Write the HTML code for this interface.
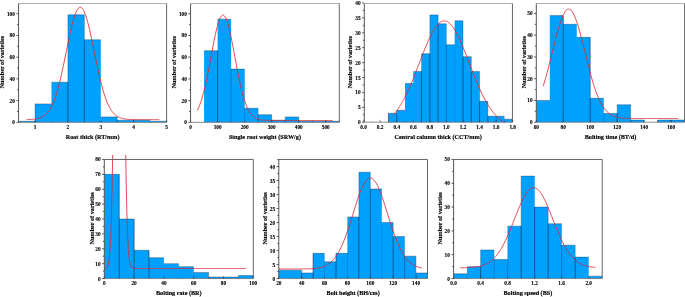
<!DOCTYPE html>
<html><head><meta charset="utf-8"><style>
html,body{margin:0;padding:0;background:#fff;}
svg{display:block;will-change:transform;}
</style></head><body>
<svg width="685" height="297" viewBox="0 0 685 297">
<rect width="685" height="297" fill="#fff"/>
<g fill="#00a0ff"><path d="M18.57 122.35V121.26H35.02V103.88H51.47V82.15H67.91V14.8H84.36V39.79H100.81V116.92H117.26V120.18H133.7V120.18H150.15V121.26H166.6V122.35Z"/></g>
<g stroke="#102a48" stroke-width="0.6" fill="none"><path d="M18.57 121.26H35.02" stroke-opacity="0.6"/><path d="M35.02 103.88H51.47" stroke-opacity="0.6"/><path d="M51.47 82.15H67.91" stroke-opacity="0.6"/><path d="M67.91 14.8H84.36" stroke-opacity="0.6"/><path d="M84.36 39.79H100.81" stroke-opacity="0.6"/><path d="M100.81 116.92H117.26" stroke-opacity="0.6"/><path d="M117.26 120.18H133.7" stroke-opacity="0.6"/><path d="M133.7 120.18H150.15" stroke-opacity="0.6"/><path d="M150.15 121.26H166.6" stroke-opacity="0.6"/><path d="M35.02 121.26V122.35" stroke-opacity="1"/><path d="M35.02 103.88V121.26" stroke-opacity="0.5"/><path d="M67.91 82.15V122.35" stroke-opacity="1"/><path d="M67.91 14.8V82.15" stroke-opacity="0.5"/><path d="M84.36 39.79V122.35" stroke-opacity="1"/><path d="M84.36 14.8V39.79" stroke-opacity="0.5"/><path d="M117.26 120.18V122.35" stroke-opacity="1"/><path d="M117.26 116.92V120.18" stroke-opacity="0.5"/><path d="M133.7 120.18V122.35" stroke-opacity="1"/></g>
<polyline fill="none" stroke="#d82c34" stroke-width="0.85" points="26.46,119.57 27.13,119.56 27.79,119.54 28.46,119.52 29.12,119.5 29.79,119.48 30.45,119.45 31.12,119.41 31.78,119.37 32.45,119.33 33.11,119.27 33.77,119.21 34.44,119.14 35.1,119.05 35.77,118.95 36.43,118.84 37.1,118.72 37.76,118.57 38.43,118.41 39.09,118.22 39.75,118.01 40.42,117.76 41.08,117.49 41.75,117.19 42.41,116.85 43.08,116.46 43.74,116.03 44.41,115.56 45.07,115.03 45.74,114.45 46.4,113.8 47.06,113.09 47.73,112.31 48.39,111.45 49.06,110.52 49.72,109.5 50.39,108.39 51.05,107.19 51.72,105.9 52.38,104.5 53.04,103 53.71,101.4 54.37,99.68 55.04,97.85 55.7,95.91 56.37,93.86 57.03,91.69 57.7,89.4 58.36,87.01 59.02,84.5 59.69,81.89 60.35,79.18 61.02,76.37 61.68,73.47 62.35,70.49 63.01,67.43 63.68,64.31 64.34,61.14 65.01,57.93 65.67,54.69 66.33,51.44 67,48.18 67.66,44.94 68.33,41.73 68.99,38.57 69.66,35.48 70.32,32.46 70.99,29.54 71.65,26.74 72.31,24.06 72.98,21.54 73.64,19.17 74.31,16.99 74.97,14.99 75.64,13.2 76.3,11.63 76.97,10.28 77.63,9.17 78.3,8.3 78.96,7.68 79.62,7.31 80.29,7.19 80.95,7.34 81.62,7.74 82.28,8.39 82.95,9.29 83.61,10.43 84.28,11.8 84.94,13.4 85.6,15.22 86.27,17.24 86.93,19.45 87.6,21.83 88.26,24.37 88.93,27.06 89.59,29.88 90.26,32.81 90.92,35.84 91.58,38.95 92.25,42.11 92.91,45.33 93.58,48.57 94.24,51.82 94.91,55.08 95.57,58.31 96.24,61.52 96.9,64.69 97.57,67.8 98.23,70.84 98.89,73.82 99.56,76.7 100.22,79.5 100.89,82.2 101.55,84.8 102.22,87.3 102.88,89.68 103.55,91.95 104.21,94.11 104.87,96.15 105.54,98.08 106.2,99.89 106.87,101.59 107.53,103.19 108.2,104.67 108.86,106.06 109.53,107.34 110.19,108.53 110.86,109.63 111.52,110.63 112.18,111.56 112.85,112.41 113.51,113.18 114.18,113.88 114.84,114.52 115.51,115.1 116.17,115.62 116.84,116.09 117.5,116.51 118.16,116.89 118.83,117.23 119.49,117.53 120.16,117.79 120.82,118.03 121.49,118.24 122.15,118.43 122.82,118.59 123.48,118.73 124.14,118.86 124.81,118.97 125.47,119.06 126.14,119.15 126.8,119.22 127.47,119.28 128.13,119.33 128.8,119.38 129.46,119.42 130.13,119.45 130.79,119.48 131.45,119.51 132.12,119.53 132.78,119.54 133.45,119.56 134.11,119.57 134.78,119.58 135.44,119.59 136.11,119.6 136.77,119.6 137.43,119.61 138.1,119.61 138.76,119.62 139.43,119.62 140.09,119.62 140.76,119.63 141.42,119.63 142.09,119.63 142.75,119.63 143.42,119.63 144.08,119.63 144.74,119.63 145.41,119.63 146.07,119.63 146.74,119.63 147.4,119.63 148.07,119.63 148.73,119.63 149.4,119.63 150.06,119.63 150.72,119.63 151.39,119.63 152.05,119.63 152.72,119.63 153.38,119.63 154.05,119.63 154.71,119.63 155.38,119.63 156.04,119.63 156.71,119.63 157.37,119.63 158.03,119.63 158.7,119.63 159.36,119.63"/>
<path d="M18.57 3.5H166.6" stroke="#b0b0b0" stroke-width="1" fill="none"/>
<path d="M166.6 3.5V122.35" stroke="#666" stroke-width="1" fill="none"/>
<path d="M18.57 122.35H166.6" stroke="#707070" stroke-width="0.8" fill="none"/>
<path d="M18.57 3.5V122.35" stroke="#555" stroke-width="1" fill="none"/>
<path d="M18.57 122.35h-2.2M18.57 100.62h-2.2M18.57 78.89h-2.2M18.57 57.17h-2.2M18.57 35.44h-2.2M18.57 13.71h-2.2M18.57 111.49h-1.5M18.57 89.76h-1.5M18.57 68.03h-1.5M18.57 46.3h-1.5M18.57 24.58h-1.5" stroke="#333" stroke-width="0.8" fill="none"/>
<path d="M35.02 122.35v-2.4M67.91 122.35v-2.4M100.81 122.35v-2.4M133.7 122.35v-2.4M166.6 122.35v-2.4" stroke="#333" stroke-width="0.7" stroke-opacity="0.8" fill="none"/>
<path d="M18.57 122.35v-1.2M51.47 122.35v-1.2M84.36 122.35v-1.2M117.26 122.35v-1.2M150.15 122.35v-1.2" stroke="#333" stroke-width="0.7" stroke-opacity="0.4" fill="none"/>
<g font-family="Liberation Serif" font-weight="bold" font-size="5.3" fill="#000" stroke="#000" stroke-width="0.12"><text x="14.87" y="124.35" text-anchor="end">0</text><text x="14.87" y="102.62" text-anchor="end">20</text><text x="14.87" y="80.89" text-anchor="end">40</text><text x="14.87" y="59.17" text-anchor="end">60</text><text x="14.87" y="37.44" text-anchor="end">80</text><text x="14.87" y="15.71" text-anchor="end">100</text><text x="35.02" y="129.25" text-anchor="middle">1</text><text x="67.91" y="129.25" text-anchor="middle">2</text><text x="100.81" y="129.25" text-anchor="middle">3</text><text x="133.7" y="129.25" text-anchor="middle">4</text><text x="166.6" y="129.25" text-anchor="middle">5</text></g>
<text x="92.58" y="138.85" text-anchor="middle" font-family="Liberation Serif" font-weight="bold" font-size="6.2" fill="#000" stroke="#000" stroke-width="0.15">Root thick (RT/mm)</text>
<text transform="translate(4.2,62.12) rotate(-90)" text-anchor="middle" font-family="Liberation Serif" font-weight="bold" font-size="6.2" fill="#000" stroke="#000" stroke-width="0.15">Number of varieties</text>
<g fill="#00a0ff"><path d="M204.09 122.35V50.65H217.61V19.14H231.13V69.12H244.65V108.23H258.17V114.75H271.7V120.18H285.22V116.92H298.74V121.26H312.26V121.26H325.78V121.26H339.3V122.35Z"/></g>
<g stroke="#102a48" stroke-width="0.6" fill="none"><path d="M204.09 50.65H217.61" stroke-opacity="0.6"/><path d="M217.61 19.14H231.13" stroke-opacity="0.6"/><path d="M231.13 69.12H244.65" stroke-opacity="0.6"/><path d="M244.65 108.23H258.17" stroke-opacity="0.6"/><path d="M258.17 114.75H271.7" stroke-opacity="0.6"/><path d="M271.7 120.18H285.22" stroke-opacity="0.6"/><path d="M285.22 116.92H298.74" stroke-opacity="0.6"/><path d="M298.74 121.26H312.26" stroke-opacity="0.6"/><path d="M312.26 121.26H325.78" stroke-opacity="0.6"/><path d="M325.78 121.26H339.3" stroke-opacity="0.6"/><path d="M217.61 50.65V122.35" stroke-opacity="1"/><path d="M231.13 69.12V122.35" stroke-opacity="0.5"/><path d="M244.65 108.23V122.35" stroke-opacity="0.4"/><path d="M244.65 69.12V108.23" stroke-opacity="0.2"/><path d="M258.17 114.75V122.35" stroke-opacity="0.7"/><path d="M258.17 108.23V114.75" stroke-opacity="0.35"/><path d="M271.7 120.18V122.35" stroke-opacity="1"/><path d="M271.7 114.75V120.18" stroke-opacity="0.5"/><path d="M285.22 120.18V122.35" stroke-opacity="1"/><path d="M285.22 116.92V120.18" stroke-opacity="0.5"/><path d="M298.74 121.26V122.35" stroke-opacity="1"/><path d="M298.74 116.92V121.26" stroke-opacity="0.5"/><path d="M312.26 121.26V122.35" stroke-opacity="1"/><path d="M325.78 121.26V122.35" stroke-opacity="1"/></g>
<polyline fill="none" stroke="#d82c34" stroke-width="0.85" points="197.33,110.22 198.01,108.89 198.68,107.44 199.36,105.85 200.03,104.12 200.71,102.25 201.39,100.22 202.06,98.05 202.74,95.73 203.41,93.25 204.09,90.62 204.77,87.85 205.44,84.93 206.12,81.88 206.8,78.7 207.47,75.41 208.15,72.02 208.82,68.54 209.5,64.98 210.18,61.38 210.85,57.75 211.53,54.11 212.2,50.49 212.88,46.91 213.56,43.4 214.23,39.98 214.91,36.68 215.58,33.53 216.26,30.55 216.94,27.77 217.61,25.22 218.29,22.91 218.96,20.87 219.64,19.12 220.32,17.67 220.99,16.53 221.67,15.73 222.34,15.26 223.02,15.13 223.7,15.34 224.37,15.89 225.05,16.77 225.72,17.99 226.4,19.51 227.08,21.33 227.75,23.44 228.43,25.81 229.1,28.42 229.78,31.25 230.46,34.27 231.13,37.46 231.81,40.79 232.48,44.23 233.16,47.77 233.84,51.36 234.51,54.99 235.19,58.63 235.87,62.25 236.54,65.84 237.22,69.38 237.89,72.84 238.57,76.21 239.25,79.48 239.92,82.63 240.6,85.65 241.27,88.53 241.95,91.27 242.63,93.86 243.3,96.3 243.98,98.59 244.65,100.72 245.33,102.71 246.01,104.55 246.68,106.24 247.36,107.8 248.03,109.22 248.71,110.52 249.39,111.69 250.06,112.75 250.74,113.71 251.41,114.57 252.09,115.33 252.77,116.02 253.44,116.62 254.12,117.15 254.79,117.62 255.47,118.04 256.15,118.4 256.82,118.71 257.5,118.98 258.17,119.22 258.85,119.42 259.53,119.59 260.2,119.74 260.88,119.87 261.55,119.97 262.23,120.06 262.91,120.14 263.58,120.2 264.26,120.26 264.94,120.3 265.61,120.34 266.29,120.37 266.96,120.39 267.64,120.42 268.32,120.43 268.99,120.45 269.67,120.46 270.34,120.47 271.02,120.47 271.7,120.48 272.37,120.49 273.05,120.49 273.72,120.49 274.4,120.49 275.08,120.5 275.75,120.5 276.43,120.5 277.1,120.5 277.78,120.5 278.46,120.5 279.13,120.5 279.81,120.5 280.48,120.5 281.16,120.5 281.84,120.5 282.51,120.5 283.19,120.5 283.86,120.5 284.54,120.5 285.22,120.5 285.89,120.5 286.57,120.5 287.24,120.5 287.92,120.5 288.6,120.5 289.27,120.5 289.95,120.5 290.62,120.5 291.3,120.5 291.98,120.5 292.65,120.5 293.33,120.5 294,120.5 294.68,120.5 295.36,120.5 296.03,120.5 296.71,120.5 297.39,120.5 298.06,120.5 298.74,120.5 299.41,120.5 300.09,120.5 300.77,120.5 301.44,120.5 302.12,120.5 302.79,120.5 303.47,120.5 304.15,120.5 304.82,120.5 305.5,120.5 306.17,120.5 306.85,120.5 307.53,120.5 308.2,120.5 308.88,120.5 309.55,120.5 310.23,120.5 310.91,120.5 311.58,120.5 312.26,120.5 312.93,120.5 313.61,120.5 314.29,120.5 314.96,120.5 315.64,120.5 316.31,120.5 316.99,120.5 317.67,120.5 318.34,120.5 319.02,120.5 319.69,120.5 320.37,120.5 321.05,120.5 321.72,120.5 322.4,120.5 323.07,120.5 323.75,120.5 324.43,120.5 325.1,120.5 325.78,120.5 326.46,120.5 327.13,120.5 327.81,120.5 328.48,120.5 329.16,120.5 329.84,120.5 330.51,120.5 331.19,120.5 331.86,120.5 332.54,120.5"/>
<path d="M190.57 3.5H339.3" stroke="#b0b0b0" stroke-width="1" fill="none"/>
<path d="M339.3 3.5V122.35" stroke="#666" stroke-width="1" fill="none"/>
<path d="M190.57 122.35H339.3" stroke="#707070" stroke-width="0.8" fill="none"/>
<path d="M190.57 3.5V122.35" stroke="#555" stroke-width="1" fill="none"/>
<path d="M190.57 122.35h-2.2M190.57 100.62h-2.2M190.57 78.89h-2.2M190.57 57.17h-2.2M190.57 35.44h-2.2M190.57 13.71h-2.2M190.57 111.49h-1.5M190.57 89.76h-1.5M190.57 68.03h-1.5M190.57 46.3h-1.5M190.57 24.58h-1.5" stroke="#333" stroke-width="0.8" fill="none"/>
<path d="M190.57 122.35v-2.4M217.61 122.35v-2.4M244.65 122.35v-2.4M271.7 122.35v-2.4M298.74 122.35v-2.4M325.78 122.35v-2.4" stroke="#333" stroke-width="0.7" stroke-opacity="0.8" fill="none"/>
<path d="M204.09 122.35v-1.2M231.13 122.35v-1.2M258.17 122.35v-1.2M285.22 122.35v-1.2M312.26 122.35v-1.2M339.3 122.35v-1.2" stroke="#333" stroke-width="0.7" stroke-opacity="0.4" fill="none"/>
<g font-family="Liberation Serif" font-weight="bold" font-size="5.3" fill="#000" stroke="#000" stroke-width="0.12"><text x="186.87" y="124.35" text-anchor="end">0</text><text x="186.87" y="102.62" text-anchor="end">20</text><text x="186.87" y="80.89" text-anchor="end">40</text><text x="186.87" y="59.17" text-anchor="end">60</text><text x="186.87" y="37.44" text-anchor="end">80</text><text x="186.87" y="15.71" text-anchor="end">100</text><text x="190.57" y="129.25" text-anchor="middle">0</text><text x="217.61" y="129.25" text-anchor="middle">100</text><text x="244.65" y="129.25" text-anchor="middle">200</text><text x="271.7" y="129.25" text-anchor="middle">300</text><text x="298.74" y="129.25" text-anchor="middle">400</text><text x="325.78" y="129.25" text-anchor="middle">500</text></g>
<text x="264.94" y="138.85" text-anchor="middle" font-family="Liberation Serif" font-weight="bold" font-size="6.2" fill="#000" stroke="#000" stroke-width="0.15">Single root weight (SRW/g)</text>
<text transform="translate(176.1,62.12) rotate(-90)" text-anchor="middle" font-family="Liberation Serif" font-weight="bold" font-size="6.2" fill="#000" stroke="#000" stroke-width="0.15">Number of varieties</text>
<g fill="#00a0ff"><path d="M388.45 122.2V113.26H396.73V110.28H405.02V83.46H413.3V71.54H421.58V53.66H429.87V14.91H438.15V23.85H446.43V44.72H454.72V20.87H463V56.64H471.28V71.54H479.57V101.34H487.85V116.24H496.13V116.24H504.42V119.22H512.7V122.2Z"/></g>
<g stroke="#102a48" stroke-width="0.6" fill="none"><path d="M388.45 113.26H396.73" stroke-opacity="0.6"/><path d="M396.73 110.28H405.02" stroke-opacity="0.6"/><path d="M405.02 83.46H413.3" stroke-opacity="0.6"/><path d="M413.3 71.54H421.58" stroke-opacity="0.6"/><path d="M421.58 53.66H429.87" stroke-opacity="0.6"/><path d="M429.87 14.91H438.15" stroke-opacity="0.6"/><path d="M438.15 23.85H446.43" stroke-opacity="0.6"/><path d="M446.43 44.72H454.72" stroke-opacity="0.6"/><path d="M454.72 20.87H463" stroke-opacity="0.6"/><path d="M463 56.64H471.28" stroke-opacity="0.6"/><path d="M471.28 71.54H479.57" stroke-opacity="0.6"/><path d="M479.57 101.34H487.85" stroke-opacity="0.6"/><path d="M487.85 116.24H496.13" stroke-opacity="0.6"/><path d="M496.13 116.24H504.42" stroke-opacity="0.6"/><path d="M504.42 119.22H512.7" stroke-opacity="0.6"/><path d="M388.45 113.26V122.2" stroke-opacity="1"/><path d="M396.73 113.26V122.2" stroke-opacity="1"/><path d="M396.73 110.28V113.26" stroke-opacity="0.5"/><path d="M421.58 71.54V122.2" stroke-opacity="1"/><path d="M421.58 53.66V71.54" stroke-opacity="0.5"/><path d="M429.87 53.66V122.2" stroke-opacity="1"/><path d="M429.87 14.91V53.66" stroke-opacity="0.5"/><path d="M438.15 23.85V122.2" stroke-opacity="1"/><path d="M438.15 14.91V23.85" stroke-opacity="0.5"/><path d="M446.43 44.72V122.2" stroke-opacity="0.6"/><path d="M446.43 23.85V44.72" stroke-opacity="0.3"/><path d="M454.72 44.72V122.2" stroke-opacity="0.2"/><path d="M454.72 20.87V44.72" stroke-opacity="0.1"/><path d="M463 56.64V122.2" stroke-opacity="1"/><path d="M463 20.87V56.64" stroke-opacity="0.5"/><path d="M471.28 71.54V122.2" stroke-opacity="1"/><path d="M471.28 56.64V71.54" stroke-opacity="0.5"/><path d="M479.57 101.34V122.2" stroke-opacity="1"/><path d="M479.57 71.54V101.34" stroke-opacity="0.5"/><path d="M487.85 116.24V122.2" stroke-opacity="1"/><path d="M487.85 101.34V116.24" stroke-opacity="0.5"/><path d="M496.13 116.24V122.2" stroke-opacity="0.5"/><path d="M504.42 119.22V122.2" stroke-opacity="0.2"/><path d="M504.42 116.24V119.22" stroke-opacity="0.1"/></g>
<polyline fill="none" stroke="#d82c34" stroke-width="0.85" points="392.43,115.71 392.99,115.12 393.55,114.51 394.11,113.87 394.67,113.22 395.24,112.54 395.8,111.84 396.36,111.11 396.92,110.37 397.48,109.6 398.05,108.8 398.61,107.98 399.17,107.14 399.73,106.28 400.29,105.39 400.86,104.47 401.42,103.54 401.98,102.57 402.54,101.59 403.1,100.58 403.67,99.54 404.23,98.48 404.79,97.4 405.35,96.29 405.91,95.17 406.48,94.01 407.04,92.84 407.6,91.65 408.16,90.43 408.72,89.19 409.29,87.93 409.85,86.66 410.41,85.36 410.97,84.05 411.53,82.71 412.1,81.37 412.66,80 413.22,78.62 413.78,77.23 414.34,75.83 414.91,74.41 415.47,72.98 416.03,71.55 416.59,70.1 417.16,68.65 417.72,67.2 418.28,65.74 418.84,64.28 419.4,62.81 419.97,61.35 420.53,59.89 421.09,58.43 421.65,56.97 422.21,55.53 422.78,54.09 423.34,52.66 423.9,51.24 424.46,49.84 425.02,48.45 425.59,47.07 426.15,45.72 426.71,44.38 427.27,43.07 427.83,41.78 428.4,40.51 428.96,39.27 429.52,38.06 430.08,36.87 430.64,35.72 431.21,34.6 431.77,33.52 432.33,32.47 432.89,31.46 433.45,30.49 434.02,29.56 434.58,28.67 435.14,27.82 435.7,27.02 436.26,26.26 436.83,25.54 437.39,24.88 437.95,24.26 438.51,23.7 439.07,23.18 439.64,22.71 440.2,22.3 440.76,21.93 441.32,21.62 441.88,21.37 442.45,21.16 443.01,21.01 443.57,20.92 444.13,20.88 444.69,20.89 445.26,20.96 445.82,21.08 446.38,21.25 446.94,21.48 447.5,21.76 448.07,22.1 448.63,22.49 449.19,22.93 449.75,23.42 450.31,23.96 450.88,24.55 451.44,25.19 452,25.88 452.56,26.61 453.12,27.39 453.69,28.22 454.25,29.08 454.81,30 455.37,30.95 455.93,31.94 456.5,32.97 457.06,34.03 457.62,35.13 458.18,36.27 458.74,37.43 459.31,38.63 459.87,39.85 460.43,41.11 460.99,42.39 461.55,43.69 462.12,45.01 462.68,46.36 463.24,47.72 463.8,49.11 464.37,50.5 464.93,51.91 465.49,53.34 466.05,54.77 466.61,56.21 467.18,57.67 467.74,59.12 468.3,60.58 468.86,62.04 469.42,63.51 469.99,64.97 470.55,66.43 471.11,67.89 471.67,69.34 472.23,70.79 472.8,72.23 473.36,73.66 473.92,75.09 474.48,76.5 475.04,77.9 475.61,79.28 476.17,80.65 476.73,82.01 477.29,83.35 477.85,84.67 478.42,85.98 478.98,87.27 479.54,88.53 480.1,89.78 480.66,91.01 481.23,92.22 481.79,93.4 482.35,94.56 482.91,95.7 483.47,96.82 484.04,97.92 484.6,98.99 485.16,100.04 485.72,101.06 486.28,102.06 486.85,103.03 487.41,103.98 487.97,104.91 488.53,105.81 489.09,106.69 489.66,107.55 490.22,108.38 490.78,109.18 491.34,109.97 491.9,110.73 492.47,111.46 493.03,112.17 493.59,112.87 494.15,113.53 494.71,114.18 495.28,114.8 495.84,115.41 496.4,115.99 496.96,116.55 497.52,117.09 498.09,117.61 498.65,118.11 499.21,118.59 499.77,119.06 500.33,119.5 500.9,119.93 501.46,120.34 502.02,120.74 502.58,121.12 503.14,121.48 503.71,121.82 504.27,122.16 504.83,122.47"/>
<path d="M364.3 3.5H512.45" stroke="#b0b0b0" stroke-width="1" fill="none"/>
<path d="M512.45 3.5V122.2" stroke="#666" stroke-width="1" fill="none"/>
<path d="M364.3 122.2H512.45" stroke="#707070" stroke-width="0.8" fill="none"/>
<path d="M364.3 3.5V122.2" stroke="#555" stroke-width="1" fill="none"/>
<path d="M364.3 122.2h-2.2M364.3 107.3h-2.2M364.3 92.4h-2.2M364.3 77.5h-2.2M364.3 62.6h-2.2M364.3 47.7h-2.2M364.3 32.8h-2.2M364.3 17.89h-2.2M364.3 2.99h-2.2M364.3 114.75h-1.5M364.3 99.85h-1.5M364.3 84.95h-1.5M364.3 70.05h-1.5M364.3 55.15h-1.5M364.3 40.25h-1.5M364.3 25.34h-1.5M364.3 10.44h-1.5" stroke="#333" stroke-width="0.8" fill="none"/>
<path d="M363.6 122.2v-2.4M380.17 122.2v-2.4M396.73 122.2v-2.4M413.3 122.2v-2.4M429.87 122.2v-2.4M446.43 122.2v-2.4M463 122.2v-2.4M479.57 122.2v-2.4M496.13 122.2v-2.4M512.7 122.2v-2.4" stroke="#333" stroke-width="0.7" stroke-opacity="0.8" fill="none"/>
<path d="M371.88 122.2v-1.2M388.45 122.2v-1.2M405.02 122.2v-1.2M421.58 122.2v-1.2M438.15 122.2v-1.2M454.72 122.2v-1.2M471.28 122.2v-1.2M487.85 122.2v-1.2M504.42 122.2v-1.2" stroke="#333" stroke-width="0.7" stroke-opacity="0.4" fill="none"/>
<g font-family="Liberation Serif" font-weight="bold" font-size="5.3" fill="#000" stroke="#000" stroke-width="0.12"><text x="360.6" y="124.2" text-anchor="end">0</text><text x="360.6" y="109.3" text-anchor="end">5</text><text x="360.6" y="94.4" text-anchor="end">10</text><text x="360.6" y="79.5" text-anchor="end">15</text><text x="360.6" y="64.6" text-anchor="end">20</text><text x="360.6" y="49.7" text-anchor="end">25</text><text x="360.6" y="34.8" text-anchor="end">30</text><text x="360.6" y="19.89" text-anchor="end">35</text><text x="360.6" y="4.99" text-anchor="end">40</text><text x="363.6" y="129.1" text-anchor="middle">0.0</text><text x="380.17" y="129.1" text-anchor="middle">0.2</text><text x="396.73" y="129.1" text-anchor="middle">0.4</text><text x="413.3" y="129.1" text-anchor="middle">0.6</text><text x="429.87" y="129.1" text-anchor="middle">0.8</text><text x="446.43" y="129.1" text-anchor="middle">1.0</text><text x="463" y="129.1" text-anchor="middle">1.2</text><text x="479.57" y="129.1" text-anchor="middle">1.4</text><text x="496.13" y="129.1" text-anchor="middle">1.6</text><text x="512.7" y="129.1" text-anchor="middle">1.8</text></g>
<text x="438.15" y="138.7" text-anchor="middle" font-family="Liberation Serif" font-weight="bold" font-size="6.2" fill="#000" stroke="#000" stroke-width="0.15">Central column thick (CCT/mm)</text>
<text transform="translate(352.1,62.05) rotate(-90)" text-anchor="middle" font-family="Liberation Serif" font-weight="bold" font-size="6.2" fill="#000" stroke="#000" stroke-width="0.15">Number of varieties</text>
<g fill="#00a0ff"><path d="M536.3 122.2V100.45H549.78V15.62H563.26V24.32H576.75V37.37H590.23V98.27H603.71V113.5H617.19V104.8H630.67V120.02H644.15V122.2Z"/><path d="M657.64 122.2V120.02H671.12V120.02H684.6V122.2Z"/></g>
<g stroke="#102a48" stroke-width="0.6" fill="none"><path d="M536.3 100.45H549.78" stroke-opacity="0.6"/><path d="M549.78 15.62H563.26" stroke-opacity="0.6"/><path d="M563.26 24.32H576.75" stroke-opacity="0.6"/><path d="M576.75 37.37H590.23" stroke-opacity="0.6"/><path d="M590.23 98.27H603.71" stroke-opacity="0.6"/><path d="M603.71 113.5H617.19" stroke-opacity="0.6"/><path d="M617.19 104.8H630.67" stroke-opacity="0.6"/><path d="M630.67 120.02H644.15" stroke-opacity="0.6"/><path d="M657.64 120.02H671.12" stroke-opacity="0.6"/><path d="M671.12 120.02H684.6" stroke-opacity="0.6"/><path d="M563.26 24.32V122.2" stroke-opacity="1"/><path d="M563.26 15.62V24.32" stroke-opacity="1"/><path d="M590.23 98.27V122.2" stroke-opacity="1"/><path d="M590.23 37.37V98.27" stroke-opacity="0.8"/><path d="M603.71 113.5V122.2" stroke-opacity="0.3"/><path d="M603.71 98.27V113.5" stroke-opacity="0.15"/><path d="M617.19 113.5V122.2" stroke-opacity="1"/><path d="M617.19 104.8V113.5" stroke-opacity="0.5"/><path d="M630.67 120.02V122.2" stroke-opacity="1"/><path d="M630.67 104.8V120.02" stroke-opacity="0.5"/><path d="M644.15 120.02V122.2" stroke-opacity="0.6"/><path d="M657.64 120.02V122.2" stroke-opacity="0.8"/><path d="M671.12 120.02V122.2" stroke-opacity="1"/></g>
<polyline fill="none" stroke="#d82c34" stroke-width="0.85" points="543.18,86.2 543.85,84.07 544.53,81.86 545.2,79.57 545.88,77.22 546.56,74.8 547.23,72.31 547.91,69.77 548.58,67.18 549.26,64.54 549.94,61.86 550.61,59.15 551.29,56.42 551.97,53.68 552.64,50.93 553.32,48.18 553.99,45.45 554.67,42.74 555.35,40.07 556.02,37.44 556.7,34.87 557.37,32.36 558.05,29.93 558.73,27.59 559.4,25.35 560.08,23.22 560.75,21.2 561.43,19.31 562.11,17.56 562.78,15.96 563.46,14.5 564.14,13.21 564.81,12.09 565.49,11.14 566.16,10.36 566.84,9.77 567.52,9.36 568.19,9.13 568.87,9.1 569.54,9.25 570.22,9.59 570.9,10.12 571.57,10.82 572.25,11.71 572.92,12.77 573.6,14 574.28,15.4 574.95,16.94 575.63,18.64 576.31,20.48 576.98,22.45 577.66,24.54 578.33,26.74 579.01,29.05 579.69,31.45 580.36,33.92 581.04,36.47 581.71,39.08 582.39,41.74 583.07,44.44 583.74,47.16 584.42,49.9 585.09,52.65 585.77,55.4 586.45,58.14 587.12,60.85 587.8,63.54 588.48,66.2 589.15,68.81 589.83,71.37 590.5,73.88 591.18,76.32 591.86,78.7 592.53,81.01 593.21,83.25 593.88,85.41 594.56,87.49 595.24,89.49 595.91,91.41 596.59,93.24 597.26,94.99 597.94,96.66 598.62,98.24 599.29,99.75 599.97,101.16 600.65,102.5 601.32,103.77 602,104.95 602.67,106.06 603.35,107.1 604.03,108.07 604.7,108.98 605.38,109.82 606.05,110.6 606.73,111.32 607.41,111.99 608.08,112.6 608.76,113.17 609.43,113.69 610.11,114.17 610.79,114.61 611.46,115 612.14,115.37 612.82,115.7 613.49,116 614.17,116.27 614.84,116.51 615.52,116.74 616.2,116.94 616.87,117.12 617.55,117.28 618.22,117.42 618.9,117.55 619.58,117.66 620.25,117.77 620.93,117.86 621.6,117.94 622.28,118.01 622.96,118.07 623.63,118.13 624.31,118.18 624.99,118.22 625.66,118.26 626.34,118.29 627.01,118.32 627.69,118.35 628.37,118.37 629.04,118.39 629.72,118.4 630.39,118.42 631.07,118.43 631.75,118.44 632.42,118.45 633.1,118.46 633.77,118.46 634.45,118.47 635.13,118.48 635.8,118.48 636.48,118.48 637.16,118.49 637.83,118.49 638.51,118.49 639.18,118.49 639.86,118.49 640.54,118.5 641.21,118.5 641.89,118.5 642.56,118.5 643.24,118.5 643.92,118.5 644.59,118.5 645.27,118.5 645.94,118.5 646.62,118.5 647.3,118.5 647.97,118.5 648.65,118.5 649.33,118.5 650,118.5 650.68,118.5 651.35,118.5 652.03,118.5 652.71,118.5 653.38,118.5 654.06,118.5 654.73,118.5 655.41,118.5 656.09,118.5 656.76,118.5 657.44,118.5 658.11,118.5 658.79,118.5 659.47,118.5 660.14,118.5 660.82,118.5 661.5,118.5 662.17,118.5 662.85,118.5 663.52,118.5 664.2,118.5 664.88,118.5 665.55,118.5 666.23,118.5 666.9,118.5 667.58,118.5 668.26,118.5 668.93,118.5 669.61,118.5 670.29,118.5 670.96,118.5 671.64,118.5 672.31,118.5 672.99,118.5 673.67,118.5 674.34,118.5 675.02,118.5 675.69,118.5 676.37,118.5 677.05,118.5 677.72,118.5 678.4,118.5"/>
<path d="M536.3 3.5H684.6" stroke="#b0b0b0" stroke-width="1" fill="none"/>
<path d="M684.6 3.5V122.2" stroke="#666" stroke-width="1" fill="none"/>
<path d="M536.3 122.2H684.6" stroke="#707070" stroke-width="0.8" fill="none"/>
<path d="M536.3 3.5V122.2" stroke="#555" stroke-width="1" fill="none"/>
<path d="M536.3 122.2h-2.2M536.3 100.45h-2.2M536.3 78.7h-2.2M536.3 56.94h-2.2M536.3 35.19h-2.2M536.3 13.44h-2.2M536.3 111.32h-1.5M536.3 89.57h-1.5M536.3 67.82h-1.5M536.3 46.07h-1.5M536.3 24.32h-1.5" stroke="#333" stroke-width="0.8" fill="none"/>
<path d="M536.3 122.2v-2.4M563.26 122.2v-2.4M590.23 122.2v-2.4M617.19 122.2v-2.4M644.15 122.2v-2.4M671.12 122.2v-2.4" stroke="#333" stroke-width="0.7" stroke-opacity="0.8" fill="none"/>
<path d="M549.78 122.2v-1.2M576.75 122.2v-1.2M603.71 122.2v-1.2M630.67 122.2v-1.2M657.64 122.2v-1.2M684.6 122.2v-1.2" stroke="#333" stroke-width="0.7" stroke-opacity="0.4" fill="none"/>
<g font-family="Liberation Serif" font-weight="bold" font-size="5.3" fill="#000" stroke="#000" stroke-width="0.12"><text x="532.6" y="124.2" text-anchor="end">0</text><text x="532.6" y="102.45" text-anchor="end">10</text><text x="532.6" y="80.7" text-anchor="end">20</text><text x="532.6" y="58.94" text-anchor="end">30</text><text x="532.6" y="37.19" text-anchor="end">40</text><text x="532.6" y="15.44" text-anchor="end">50</text><text x="536.3" y="129.1" text-anchor="middle">60</text><text x="563.26" y="129.1" text-anchor="middle">80</text><text x="590.23" y="129.1" text-anchor="middle">100</text><text x="617.19" y="129.1" text-anchor="middle">120</text><text x="644.15" y="129.1" text-anchor="middle">140</text><text x="671.12" y="129.1" text-anchor="middle">160</text></g>
<text x="610.45" y="138.7" text-anchor="middle" font-family="Liberation Serif" font-weight="bold" font-size="6.2" fill="#000" stroke="#000" stroke-width="0.15">Bolting time (BT/d)</text>
<text transform="translate(525.5,62.05) rotate(-90)" text-anchor="middle" font-family="Liberation Serif" font-weight="bold" font-size="6.2" fill="#000" stroke="#000" stroke-width="0.15">Number of varieties</text>
<g fill="#00a0ff"><path d="M104.3 278.55V174.34H119.2V219H134.1V250.26H149V257.71H163.9V263.66H178.8V266.64H193.7V272.6H208.6V277.06H223.5V277.06H238.4V275.57H253.3V278.55Z"/></g>
<g stroke="#102a48" stroke-width="0.6" fill="none"><path d="M104.3 174.34H119.2" stroke-opacity="0.6"/><path d="M119.2 219H134.1" stroke-opacity="0.6"/><path d="M134.1 250.26H149" stroke-opacity="0.6"/><path d="M149 257.71H163.9" stroke-opacity="0.6"/><path d="M163.9 263.66H178.8" stroke-opacity="0.6"/><path d="M178.8 266.64H193.7" stroke-opacity="0.6"/><path d="M193.7 272.6H208.6" stroke-opacity="0.6"/><path d="M208.6 277.06H223.5" stroke-opacity="0.6"/><path d="M223.5 277.06H238.4" stroke-opacity="0.6"/><path d="M238.4 275.57H253.3" stroke-opacity="0.6"/><path d="M119.2 219V278.55" stroke-opacity="1"/><path d="M119.2 174.34V219" stroke-opacity="1"/><path d="M134.1 250.26V278.55" stroke-opacity="1"/><path d="M134.1 219V250.26" stroke-opacity="1"/><path d="M149 257.71V278.55" stroke-opacity="1"/><path d="M149 250.26V257.71" stroke-opacity="1"/><path d="M193.7 272.6V278.55" stroke-opacity="0.3"/><path d="M193.7 266.64V272.6" stroke-opacity="0.15"/><path d="M208.6 277.06V278.55" stroke-opacity="1"/><path d="M208.6 272.6V277.06" stroke-opacity="0.5"/><path d="M223.5 277.06V278.55" stroke-opacity="1"/><path d="M238.4 277.06V278.55" stroke-opacity="1"/><path d="M238.4 275.57V277.06" stroke-opacity="0.5"/></g>
<clipPath id="cp4"><rect x="0" y="155" width="685" height="297"/></clipPath>
<polyline clip-path="url(#cp4)" fill="none" stroke="#d82c34" stroke-width="0.85" points="104.3,268.45 105.01,268.38 105.72,268.22 106.42,267.87 107.13,267.16 107.84,265.77 108.55,263.17 109.25,258.52 109.96,250.62 110.67,237.82 111.38,218.07 112.09,189.09 112.79,148.73 113.5,95.45 114.21,29.01 114.92,-48.99 115.62,-134.67 116.33,-221.9 117.04,-302.89 117.75,-369.22 118.45,-413.28 119.16,-429.68 119.87,-416.37 120.58,-375.02 121.29,-310.71 121.99,-230.87 122.7,-143.9 123.41,-57.74 124.12,21.29 124.82,89.07 125.53,143.74 126.24,185.41 126.95,215.49 127.66,236.11 128.36,249.54 129.07,257.87 129.78,262.79 130.49,265.56 131.19,267.05 131.9,267.82 132.61,268.19 133.32,268.37 134.03,268.45 134.73,268.48 135.44,268.49 136.15,268.5 136.86,268.5 137.56,268.5 138.27,268.5 138.98,268.5 139.69,268.5 140.4,268.5 141.1,268.5 141.81,268.5 142.52,268.5 143.23,268.5 143.93,268.5 144.64,268.5 145.35,268.5 146.06,268.5 146.76,268.5 147.47,268.5 148.18,268.5 148.89,268.5 149.6,268.5 150.3,268.5 151.01,268.5 151.72,268.5 152.43,268.5 153.13,268.5 153.84,268.5 154.55,268.5 155.26,268.5 155.97,268.5 156.67,268.5 157.38,268.5 158.09,268.5 158.8,268.5 159.5,268.5 160.21,268.5 160.92,268.5 161.63,268.5 162.34,268.5 163.04,268.5 163.75,268.5 164.46,268.5 165.17,268.5 165.87,268.5 166.58,268.5 167.29,268.5 168,268.5 168.71,268.5 169.41,268.5 170.12,268.5 170.83,268.5 171.54,268.5 172.24,268.5 172.95,268.5 173.66,268.5 174.37,268.5 175.07,268.5 175.78,268.5 176.49,268.5 177.2,268.5 177.91,268.5 178.61,268.5 179.32,268.5 180.03,268.5 180.74,268.5 181.44,268.5 182.15,268.5 182.86,268.5 183.57,268.5 184.28,268.5 184.98,268.5 185.69,268.5 186.4,268.5 187.11,268.5 187.81,268.5 188.52,268.5 189.23,268.5 189.94,268.5 190.65,268.5 191.35,268.5 192.06,268.5 192.77,268.5 193.48,268.5 194.18,268.5 194.89,268.5 195.6,268.5 196.31,268.5 197.02,268.5 197.72,268.5 198.43,268.5 199.14,268.5 199.85,268.5 200.55,268.5 201.26,268.5 201.97,268.5 202.68,268.5 203.38,268.5 204.09,268.5 204.8,268.5 205.51,268.5 206.22,268.5 206.92,268.5 207.63,268.5 208.34,268.5 209.05,268.5 209.75,268.5 210.46,268.5 211.17,268.5 211.88,268.5 212.59,268.5 213.29,268.5 214,268.5 214.71,268.5 215.42,268.5 216.12,268.5 216.83,268.5 217.54,268.5 218.25,268.5 218.96,268.5 219.66,268.5 220.37,268.5 221.08,268.5 221.79,268.5 222.49,268.5 223.2,268.5 223.91,268.5 224.62,268.5 225.33,268.5 226.03,268.5 226.74,268.5 227.45,268.5 228.16,268.5 228.86,268.5 229.57,268.5 230.28,268.5 230.99,268.5 231.69,268.5 232.4,268.5 233.11,268.5 233.82,268.5 234.53,268.5 235.23,268.5 235.94,268.5 236.65,268.5 237.36,268.5 238.06,268.5 238.77,268.5 239.48,268.5 240.19,268.5 240.9,268.5 241.6,268.5 242.31,268.5 243.02,268.5 243.73,268.5 244.43,268.5 245.14,268.5 245.85,268.5"/>
<path d="M104.3 159.45H253.3" stroke="#606060" stroke-width="1" fill="none"/>
<path d="M253.3 159.45V278.55" stroke="#666" stroke-width="1" fill="none"/>
<path d="M104.3 278.55H253.3" stroke="#707070" stroke-width="0.8" fill="none"/>
<path d="M104.3 159.45V278.55" stroke="#555" stroke-width="1" fill="none"/>
<path d="M104.3 278.55h-2.2M104.3 263.66h-2.2M104.3 248.78h-2.2M104.3 233.89h-2.2M104.3 219h-2.2M104.3 204.11h-2.2M104.3 189.22h-2.2M104.3 174.34h-2.2M104.3 159.45h-2.2M104.3 271.11h-1.5M104.3 256.22h-1.5M104.3 241.33h-1.5M104.3 226.44h-1.5M104.3 211.56h-1.5M104.3 196.67h-1.5M104.3 181.78h-1.5M104.3 166.89h-1.5" stroke="#333" stroke-width="0.8" fill="none"/>
<path d="M104.3 278.55v-2.4M134.1 278.55v-2.4M163.9 278.55v-2.4M193.7 278.55v-2.4M223.5 278.55v-2.4M253.3 278.55v-2.4" stroke="#333" stroke-width="0.7" stroke-opacity="0.8" fill="none"/>
<path d="M119.2 278.55v-1.2M149 278.55v-1.2M178.8 278.55v-1.2M208.6 278.55v-1.2M238.4 278.55v-1.2" stroke="#333" stroke-width="0.7" stroke-opacity="0.4" fill="none"/>
<g font-family="Liberation Serif" font-weight="bold" font-size="5.3" fill="#000" stroke="#000" stroke-width="0.12"><text x="100.6" y="280.55" text-anchor="end">0</text><text x="100.6" y="265.66" text-anchor="end">10</text><text x="100.6" y="250.78" text-anchor="end">20</text><text x="100.6" y="235.89" text-anchor="end">30</text><text x="100.6" y="221" text-anchor="end">40</text><text x="100.6" y="206.11" text-anchor="end">50</text><text x="100.6" y="191.22" text-anchor="end">60</text><text x="100.6" y="176.34" text-anchor="end">70</text><text x="100.6" y="161.45" text-anchor="end">80</text><text x="104.3" y="285.45" text-anchor="middle">0</text><text x="134.1" y="285.45" text-anchor="middle">20</text><text x="163.9" y="285.45" text-anchor="middle">40</text><text x="193.7" y="285.45" text-anchor="middle">60</text><text x="223.5" y="285.45" text-anchor="middle">80</text><text x="253.3" y="285.45" text-anchor="middle">100</text></g>
<text x="178.8" y="295.05" text-anchor="middle" font-family="Liberation Serif" font-weight="bold" font-size="6.2" fill="#000" stroke="#000" stroke-width="0.15">Bolting rate (BR)</text>
<text transform="translate(94.3,218.2) rotate(-90)" text-anchor="middle" font-family="Liberation Serif" font-weight="bold" font-size="6.2" fill="#000" stroke="#000" stroke-width="0.15">Number of varieties</text>
<g fill="#00a0ff"><path d="M278.8 278.55V270.15H301.68V272.95H313.12V253.36H324.55V261.76H335.99V253.36H347.43V216.97H358.87V172.19H370.31V188.98H381.75V222.57H393.18V236.56H404.62V256.16H416.06V272.95H427.5V278.55Z"/></g>
<g stroke="#102a48" stroke-width="0.6" fill="none"><path d="M278.8 270.15H301.68" stroke-opacity="0.6"/><path d="M301.68 272.95H313.12" stroke-opacity="0.6"/><path d="M313.12 253.36H324.55" stroke-opacity="0.6"/><path d="M324.55 261.76H335.99" stroke-opacity="0.6"/><path d="M335.99 253.36H347.43" stroke-opacity="0.6"/><path d="M347.43 216.97H358.87" stroke-opacity="0.6"/><path d="M358.87 172.19H370.31" stroke-opacity="0.6"/><path d="M370.31 188.98H381.75" stroke-opacity="0.6"/><path d="M381.75 222.57H393.18" stroke-opacity="0.6"/><path d="M393.18 236.56H404.62" stroke-opacity="0.6"/><path d="M404.62 256.16H416.06" stroke-opacity="0.6"/><path d="M416.06 272.95H427.5" stroke-opacity="0.6"/><path d="M301.68 272.95V278.55" stroke-opacity="1"/><path d="M301.68 270.15V272.95" stroke-opacity="0.5"/><path d="M313.12 272.95V278.55" stroke-opacity="1"/><path d="M313.12 253.36V272.95" stroke-opacity="1"/><path d="M324.55 261.76V278.55" stroke-opacity="0.3"/><path d="M324.55 253.36V261.76" stroke-opacity="0.15"/><path d="M335.99 261.76V278.55" stroke-opacity="1"/><path d="M335.99 253.36V261.76" stroke-opacity="1"/><path d="M347.43 253.36V278.55" stroke-opacity="0.3"/><path d="M347.43 216.97V253.36" stroke-opacity="0.15"/><path d="M358.87 216.97V278.55" stroke-opacity="1"/><path d="M358.87 172.19V216.97" stroke-opacity="0.5"/><path d="M370.31 188.98V278.55" stroke-opacity="1"/><path d="M370.31 172.19V188.98" stroke-opacity="0.5"/><path d="M381.75 222.57V278.55" stroke-opacity="0.2"/><path d="M381.75 188.98V222.57" stroke-opacity="0.1"/><path d="M393.18 236.56V278.55" stroke-opacity="1"/><path d="M393.18 222.57V236.56" stroke-opacity="0.5"/><path d="M404.62 256.16V278.55" stroke-opacity="0.7"/><path d="M404.62 236.56V256.16" stroke-opacity="0.35"/><path d="M416.06 272.95V278.55" stroke-opacity="0.7"/><path d="M416.06 256.16V272.95" stroke-opacity="0.35"/></g>
<polyline fill="none" stroke="#d82c34" stroke-width="0.85" points="278.8,269.03 279.51,269.03 280.23,269.03 280.94,269.03 281.66,269.03 282.37,269.03 283.09,269.03 283.8,269.03 284.52,269.03 285.23,269.03 285.95,269.03 286.66,269.03 287.38,269.03 288.09,269.03 288.81,269.03 289.52,269.03 290.24,269.03 290.95,269.03 291.67,269.03 292.38,269.03 293.1,269.03 293.81,269.03 294.53,269.03 295.24,269.03 295.96,269.02 296.67,269.02 297.39,269.02 298.1,269.02 298.82,269.02 299.53,269.01 300.25,269.01 300.96,269 301.68,269 302.39,268.99 303.11,268.99 303.82,268.98 304.54,268.97 305.25,268.96 305.97,268.94 306.68,268.93 307.4,268.91 308.11,268.89 308.83,268.87 309.54,268.85 310.26,268.82 310.97,268.78 311.69,268.75 312.4,268.7 313.12,268.65 313.83,268.6 314.55,268.54 315.26,268.47 315.98,268.39 316.69,268.3 317.4,268.2 318.12,268.09 318.83,267.96 319.55,267.82 320.26,267.67 320.98,267.49 321.69,267.3 322.41,267.09 323.12,266.85 323.84,266.59 324.55,266.31 325.27,266 325.98,265.65 326.7,265.28 327.41,264.87 328.13,264.42 328.84,263.93 329.56,263.41 330.27,262.84 330.99,262.22 331.7,261.55 332.42,260.83 333.13,260.06 333.85,259.23 334.56,258.35 335.28,257.4 335.99,256.39 336.71,255.32 337.42,254.18 338.14,252.98 338.85,251.71 339.57,250.37 340.28,248.96 341,247.48 341.71,245.93 342.43,244.31 343.14,242.63 343.86,240.87 344.57,239.06 345.29,237.18 346,235.24 346.72,233.24 347.43,231.19 348.15,229.09 348.86,226.95 349.58,224.77 350.29,222.56 351.01,220.31 351.72,218.05 352.44,215.78 353.15,213.49 353.86,211.21 354.58,208.94 355.29,206.68 356.01,204.45 356.72,202.26 357.44,200.11 358.15,198.01 358.87,195.98 359.58,194.01 360.3,192.12 361.01,190.32 361.73,188.62 362.44,187.02 363.16,185.53 363.87,184.16 364.59,182.92 365.3,181.8 366.02,180.83 366.73,179.99 367.45,179.3 368.16,178.76 368.88,178.37 369.59,178.14 370.31,178.06 371.02,178.14 371.74,178.37 372.45,178.76 373.17,179.3 373.88,179.99 374.6,180.83 375.31,181.8 376.03,182.92 376.74,184.16 377.46,185.53 378.17,187.02 378.89,188.62 379.6,190.32 380.32,192.12 381.03,194.01 381.75,195.98 382.46,198.01 383.18,200.11 383.89,202.26 384.61,204.45 385.32,206.68 386.04,208.94 386.75,211.21 387.47,213.49 388.18,215.78 388.9,218.05 389.61,220.31 390.32,222.56 391.04,224.77 391.75,226.95 392.47,229.09 393.18,231.19 393.9,233.24 394.61,235.24 395.33,237.18 396.04,239.06 396.76,240.87 397.47,242.63 398.19,244.31 398.9,245.93 399.62,247.48 400.33,248.96 401.05,250.37 401.76,251.71 402.48,252.98 403.19,254.18 403.91,255.32 404.62,256.39 405.34,257.4 406.05,258.35 406.77,259.23 407.48,260.06 408.2,260.83 408.91,261.55 409.63,262.22 410.34,262.84 411.06,263.41 411.77,263.93 412.49,264.42 413.2,264.87 413.92,265.28 414.63,265.65 415.35,266 416.06,266.31 416.78,266.59 417.49,266.85 418.21,267.09 418.92,267.3 419.64,267.49 420.35,267.67 421.07,267.82 421.78,267.96"/>
<path d="M278.8 159.45H427.5" stroke="#606060" stroke-width="1" fill="none"/>
<path d="M427.5 159.45V278.55" stroke="#666" stroke-width="1" fill="none"/>
<path d="M278.8 278.55H427.5" stroke="#707070" stroke-width="0.8" fill="none"/>
<path d="M278.8 159.45V278.55" stroke="#555" stroke-width="1" fill="none"/>
<path d="M278.8 278.55h-2.2M278.8 264.55h-2.2M278.8 250.56h-2.2M278.8 236.56h-2.2M278.8 222.57h-2.2M278.8 208.57h-2.2M278.8 194.58h-2.2M278.8 180.58h-2.2M278.8 166.59h-2.2M278.8 271.55h-1.5M278.8 257.56h-1.5M278.8 243.56h-1.5M278.8 229.57h-1.5M278.8 215.57h-1.5M278.8 201.58h-1.5M278.8 187.58h-1.5M278.8 173.59h-1.5M278.8 159.59h-1.5" stroke="#333" stroke-width="0.8" fill="none"/>
<path d="M278.8 278.55v-2.4M301.68 278.55v-2.4M324.55 278.55v-2.4M347.43 278.55v-2.4M370.31 278.55v-2.4M393.18 278.55v-2.4M416.06 278.55v-2.4" stroke="#333" stroke-width="0.7" stroke-opacity="0.8" fill="none"/>
<path d="M290.24 278.55v-1.2M313.12 278.55v-1.2M335.99 278.55v-1.2M358.87 278.55v-1.2M381.75 278.55v-1.2M404.62 278.55v-1.2M427.5 278.55v-1.2" stroke="#333" stroke-width="0.7" stroke-opacity="0.4" fill="none"/>
<g font-family="Liberation Serif" font-weight="bold" font-size="5.3" fill="#000" stroke="#000" stroke-width="0.12"><text x="275.1" y="280.55" text-anchor="end">0</text><text x="275.1" y="266.55" text-anchor="end">5</text><text x="275.1" y="252.56" text-anchor="end">10</text><text x="275.1" y="238.56" text-anchor="end">15</text><text x="275.1" y="224.57" text-anchor="end">20</text><text x="275.1" y="210.57" text-anchor="end">25</text><text x="275.1" y="196.58" text-anchor="end">30</text><text x="275.1" y="182.58" text-anchor="end">35</text><text x="275.1" y="168.59" text-anchor="end">40</text><text x="278.8" y="285.45" text-anchor="middle">20</text><text x="301.68" y="285.45" text-anchor="middle">40</text><text x="324.55" y="285.45" text-anchor="middle">60</text><text x="347.43" y="285.45" text-anchor="middle">80</text><text x="370.31" y="285.45" text-anchor="middle">100</text><text x="393.18" y="285.45" text-anchor="middle">120</text><text x="416.06" y="285.45" text-anchor="middle">140</text></g>
<text x="353.15" y="295.05" text-anchor="middle" font-family="Liberation Serif" font-weight="bold" font-size="6.2" fill="#000" stroke="#000" stroke-width="0.15">Bolt height (BH/cm)</text>
<text transform="translate(266.7,218.2) rotate(-90)" text-anchor="middle" font-family="Liberation Serif" font-weight="bold" font-size="6.2" fill="#000" stroke="#000" stroke-width="0.15">Number of varieties</text>
<g fill="#00a0ff"><path d="M453.6 278.55V273.79H467.11V266.64H480.62V249.97H494.13V259.49H507.64V226.15H521.15V176.12H534.65V207.09H548.16V223.76H561.67V245.2H575.18V257.11H588.69V276.17H602.2V278.55Z"/></g>
<g stroke="#102a48" stroke-width="0.6" fill="none"><path d="M453.6 273.79H467.11" stroke-opacity="0.6"/><path d="M467.11 266.64H480.62" stroke-opacity="0.6"/><path d="M480.62 249.97H494.13" stroke-opacity="0.6"/><path d="M494.13 259.49H507.64" stroke-opacity="0.6"/><path d="M507.64 226.15H521.15" stroke-opacity="0.6"/><path d="M521.15 176.12H534.65" stroke-opacity="0.6"/><path d="M534.65 207.09H548.16" stroke-opacity="0.6"/><path d="M548.16 223.76H561.67" stroke-opacity="0.6"/><path d="M561.67 245.2H575.18" stroke-opacity="0.6"/><path d="M575.18 257.11H588.69" stroke-opacity="0.6"/><path d="M588.69 276.17H602.2" stroke-opacity="0.6"/><path d="M467.11 273.79V278.55" stroke-opacity="0.2"/><path d="M467.11 266.64V273.79" stroke-opacity="0.1"/><path d="M480.62 266.64V278.55" stroke-opacity="1"/><path d="M480.62 249.97V266.64" stroke-opacity="0.5"/><path d="M494.13 259.49V278.55" stroke-opacity="0.5"/><path d="M494.13 249.97V259.49" stroke-opacity="0.25"/><path d="M507.64 259.49V278.55" stroke-opacity="0.5"/><path d="M507.64 226.15V259.49" stroke-opacity="0.25"/><path d="M521.15 226.15V278.55" stroke-opacity="1"/><path d="M521.15 176.12V226.15" stroke-opacity="0.5"/><path d="M534.65 207.09V278.55" stroke-opacity="1"/><path d="M534.65 176.12V207.09" stroke-opacity="0.2"/><path d="M548.16 223.76V278.55" stroke-opacity="1"/><path d="M548.16 207.09V223.76" stroke-opacity="0.5"/><path d="M561.67 245.2V278.55" stroke-opacity="0.6"/><path d="M561.67 223.76V245.2" stroke-opacity="0.3"/><path d="M575.18 257.11V278.55" stroke-opacity="1"/><path d="M575.18 245.2V257.11" stroke-opacity="0.5"/></g>
<polyline fill="none" stroke="#d82c34" stroke-width="0.85" points="460.02,267.78 460.69,267.77 461.37,267.76 462.05,267.76 462.73,267.74 463.4,267.73 464.08,267.72 464.76,267.7 465.43,267.69 466.11,267.67 466.79,267.65 467.47,267.62 468.14,267.59 468.82,267.56 469.5,267.53 470.17,267.49 470.85,267.45 471.53,267.41 472.21,267.36 472.88,267.3 473.56,267.24 474.24,267.17 474.91,267.09 475.59,267.01 476.27,266.91 476.95,266.81 477.62,266.7 478.3,266.58 478.98,266.45 479.65,266.3 480.33,266.14 481.01,265.97 481.69,265.78 482.36,265.58 483.04,265.36 483.72,265.12 484.39,264.86 485.07,264.58 485.75,264.27 486.43,263.95 487.1,263.6 487.78,263.22 488.46,262.82 489.13,262.39 489.81,261.93 490.49,261.44 491.17,260.91 491.84,260.36 492.52,259.76 493.2,259.14 493.87,258.47 494.55,257.76 495.23,257.02 495.91,256.24 496.58,255.41 497.26,254.54 497.94,253.63 498.61,252.68 499.29,251.68 499.97,250.63 500.65,249.55 501.32,248.41 502,247.24 502.68,246.01 503.35,244.75 504.03,243.44 504.71,242.09 505.39,240.7 506.06,239.27 506.74,237.8 507.42,236.3 508.09,234.76 508.77,233.19 509.45,231.59 510.13,229.97 510.8,228.32 511.48,226.64 512.16,224.96 512.83,223.26 513.51,221.55 514.19,219.83 514.87,218.11 515.54,216.39 516.22,214.69 516.9,212.99 517.57,211.31 518.25,209.65 518.93,208.01 519.61,206.41 520.28,204.84 520.96,203.31 521.64,201.83 522.31,200.4 522.99,199.02 523.67,197.71 524.35,196.45 525.02,195.26 525.7,194.15 526.38,193.11 527.05,192.15 527.73,191.28 528.41,190.49 529.09,189.79 529.76,189.18 530.44,188.67 531.12,188.25 531.79,187.93 532.47,187.71 533.15,187.58 533.83,187.56 534.5,187.64 535.18,187.82 535.86,188.09 536.53,188.47 537.21,188.94 537.89,189.5 538.57,190.16 539.24,190.91 539.92,191.74 540.6,192.66 541.27,193.67 541.95,194.75 542.63,195.9 543.31,197.12 543.98,198.41 544.66,199.76 545.34,201.17 546.01,202.63 546.69,204.14 547.37,205.69 548.05,207.28 548.72,208.9 549.4,210.55 550.08,212.22 550.75,213.91 551.43,215.61 552.11,217.33 552.79,219.04 553.46,220.76 554.14,222.48 554.82,224.18 555.49,225.88 556.17,227.56 556.85,229.22 557.53,230.85 558.2,232.46 558.88,234.05 559.56,235.6 560.23,237.12 560.91,238.61 561.59,240.05 562.27,241.46 562.94,242.83 563.62,244.16 564.3,245.44 564.97,246.68 565.65,247.88 566.33,249.03 567.01,250.14 567.68,251.21 568.36,252.23 569.04,253.2 569.71,254.13 570.39,255.02 571.07,255.86 571.75,256.67 572.42,257.43 573.1,258.15 573.78,258.84 574.45,259.48 575.13,260.09 575.81,260.66 576.49,261.2 577.16,261.71 577.84,262.18 578.52,262.63 579.19,263.04 579.87,263.43 580.55,263.79 581.23,264.13 581.9,264.44 582.58,264.73 583.26,265 583.93,265.25 584.61,265.48 585.29,265.69 585.97,265.89 586.64,266.07 587.32,266.23 588,266.38 588.67,266.52 589.35,266.65 590.03,266.76 590.71,266.87 591.38,266.97 592.06,267.05 592.74,267.13 593.41,267.21 594.09,267.27 594.77,267.33 595.45,267.38"/>
<path d="M453.6 159.45H602.2" stroke="#606060" stroke-width="1" fill="none"/>
<path d="M602.2 159.45V278.55" stroke="#666" stroke-width="1" fill="none"/>
<path d="M453.6 278.55H602.2" stroke="#707070" stroke-width="0.8" fill="none"/>
<path d="M453.6 159.45V278.55" stroke="#555" stroke-width="1" fill="none"/>
<path d="M453.6 278.55h-2.2M453.6 254.73h-2.2M453.6 230.91h-2.2M453.6 207.09h-2.2M453.6 183.27h-2.2M453.6 159.45h-2.2M453.6 266.64h-1.5M453.6 242.82h-1.5M453.6 219h-1.5M453.6 195.18h-1.5M453.6 171.36h-1.5" stroke="#333" stroke-width="0.8" fill="none"/>
<path d="M453.6 278.55v-2.4M480.62 278.55v-2.4M507.64 278.55v-2.4M534.65 278.55v-2.4M561.67 278.55v-2.4M588.69 278.55v-2.4" stroke="#333" stroke-width="0.7" stroke-opacity="0.8" fill="none"/>
<path d="M467.11 278.55v-1.2M494.13 278.55v-1.2M521.15 278.55v-1.2M548.16 278.55v-1.2M575.18 278.55v-1.2M602.2 278.55v-1.2" stroke="#333" stroke-width="0.7" stroke-opacity="0.4" fill="none"/>
<g font-family="Liberation Serif" font-weight="bold" font-size="5.3" fill="#000" stroke="#000" stroke-width="0.12"><text x="449.9" y="280.55" text-anchor="end">0</text><text x="449.9" y="256.73" text-anchor="end">10</text><text x="449.9" y="232.91" text-anchor="end">20</text><text x="449.9" y="209.09" text-anchor="end">30</text><text x="449.9" y="185.27" text-anchor="end">40</text><text x="449.9" y="161.45" text-anchor="end">50</text><text x="453.6" y="285.45" text-anchor="middle">0.0</text><text x="480.62" y="285.45" text-anchor="middle">0.4</text><text x="507.64" y="285.45" text-anchor="middle">0.8</text><text x="534.65" y="285.45" text-anchor="middle">1.2</text><text x="561.67" y="285.45" text-anchor="middle">1.6</text><text x="588.69" y="285.45" text-anchor="middle">2.0</text></g>
<text x="527.9" y="295.05" text-anchor="middle" font-family="Liberation Serif" font-weight="bold" font-size="6.2" fill="#000" stroke="#000" stroke-width="0.15">Bolting speed (BS)</text>
<text transform="translate(441.7,218.2) rotate(-90)" text-anchor="middle" font-family="Liberation Serif" font-weight="bold" font-size="6.2" fill="#000" stroke="#000" stroke-width="0.15">Number of varieties</text>
</svg>
</body></html>
